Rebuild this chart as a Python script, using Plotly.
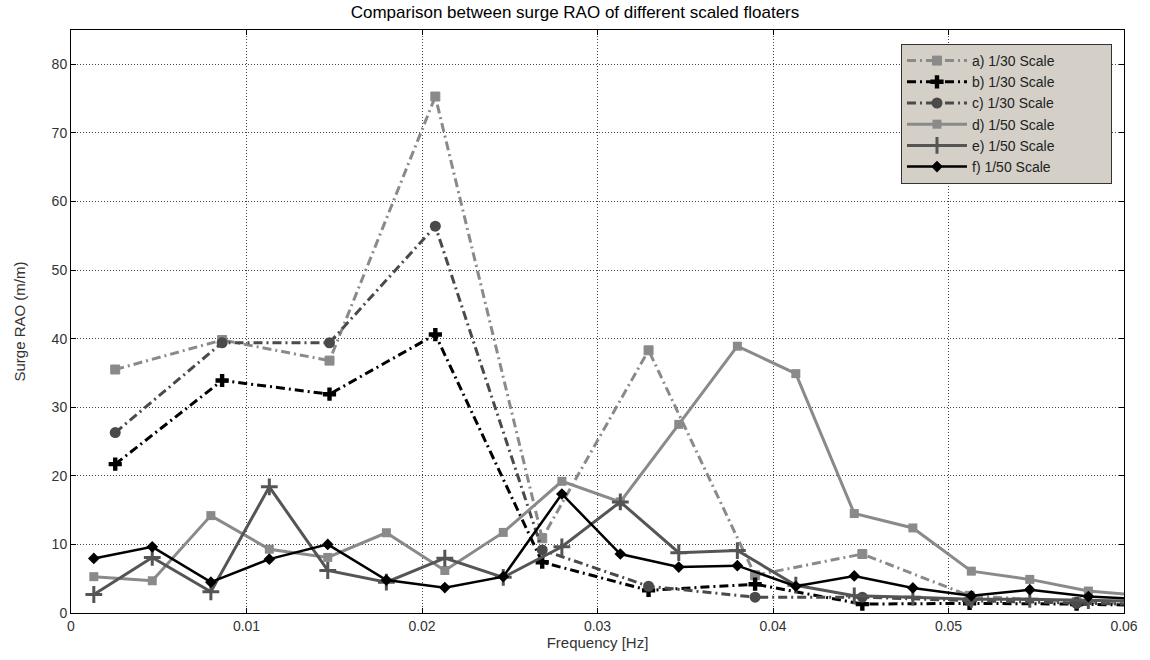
import plotly.graph_objects as go

# Frequencies (Hz)
freq_30 = [0.00252, 0.00861, 0.01473, 0.02076, 0.02685, 0.03291, 0.03898, 0.04509, 0.0512, 0.0573, 0.0634]
freq_50 = [0.0013, 0.00463, 0.00797, 0.0113, 0.01463, 0.01797, 0.0213, 0.02463, 0.02797, 0.0313,
           0.03463, 0.03797, 0.0413, 0.04463, 0.04797, 0.0513, 0.05463, 0.05797, 0.0613]

# Surge RAO (m/m)
rao_a = [35.5, 39.8, 36.8, 75.3, 10.9, 38.3, 5.5, 8.6, 2.5, 1.6, 1.2]
rao_b = [21.7, 33.9, 31.9, 40.6, 7.4, 3.3, 4.2, 1.3, 1.4, 1.3, 1.0]
rao_c = [26.3, 39.4, 39.4, 56.4, 9.2, 3.9, 2.3, 2.3, 1.8, 1.4, 1.1]
rao_d = [5.3, 4.7, 14.2, 9.3, 8.1, 11.7, 6.2, 11.75, 19.2, 16.2, 27.5, 38.9, 34.9, 14.5, 12.4, 6.1, 4.9, 3.2, 2.5]
rao_e = [2.7, 8.1, 3.1, 18.4, 6.2, 4.5, 8.0, 5.2, 9.65, 16.2, 8.8, 9.1, 4.05, 2.5, 2.3, 2.0, 2.0, 1.8, 1.7]
rao_f = [7.95, 9.65, 4.5, 7.85, 10.0, 4.8, 3.7, 5.3, 17.35, 8.6, 6.7, 6.9, 3.9, 5.4, 3.65, 2.5, 3.4, 2.4, 2.0]

names = ["a) 1/30 Scale", "b) 1/30 Scale", "c) 1/30 Scale", "d) 1/50 Scale", "e) 1/50 Scale", "f) 1/50 Scale"]
x_ticks = [0, 0.01, 0.02, 0.03, 0.04, 0.05, 0.06]
x_tick_labels = ["0", "0.01", "0.02", "0.03", "0.04", "0.05", "0.06"]
y_ticks = [0, 10, 20, 30, 40, 50, 60, 70, 80]

FONT = "Liberation Sans, Arial, sans-serif"
PAD = "\u00a0" * 13  # right padding inside the legend box

fig = go.Figure()

dashdot = "9px,4px,2px,4px"

fig.add_trace(go.Scatter(x=freq_30, y=rao_a, name=names[0] + PAD, mode="lines+markers",
                         line=dict(color="#8a8a8a", width=3, dash=dashdot),
                         marker=dict(symbol="square", size=9, color="#8a8a8a",
                                     line=dict(color="#8a8a8a", width=1))))
fig.add_trace(go.Scatter(x=freq_30, y=rao_b, name=names[1] + PAD, mode="lines+markers",
                         line=dict(color="#000000", width=3, dash=dashdot),
                         marker=dict(symbol="cross", size=11, color="#000000")))
fig.add_trace(go.Scatter(x=freq_30, y=rao_c, name=names[2] + PAD, mode="lines+markers",
                         line=dict(color="#4a4a4a", width=3, dash=dashdot),
                         marker=dict(symbol="circle", size=11, color="#4a4a4a")))
fig.add_trace(go.Scatter(x=freq_50, y=rao_d, name=names[3] + PAD, mode="lines+markers",
                         line=dict(color="#8a8a8a", width=3),
                         marker=dict(symbol="square", size=9, color="#8a8a8a")))
fig.add_trace(go.Scatter(x=freq_50, y=rao_e, name=names[4] + PAD, mode="lines+markers",
                         line=dict(color="#555555", width=3),
                         marker=dict(symbol="cross-thin", size=12, color="#555555",
                                     line=dict(color="#555555", width=3))))
fig.add_trace(go.Scatter(x=freq_50, y=rao_f, name=names[5] + PAD, mode="lines+markers",
                         line=dict(color="#000000", width=2.5),
                         marker=dict(symbol="diamond", size=9, color="#000000")))

axis_common = dict(showline=True, linecolor="#000000", linewidth=1, mirror="ticks",
                   ticks="inside", ticklen=5, tickcolor="#000000",
                   showgrid=True, gridcolor="#444444", griddash="1px,2px", gridwidth=1,
                   zeroline=False, tickfont=dict(family=FONT, size=14, color="#333333"))

fig.update_xaxes(range=[0, 0.06], tickvals=x_ticks, ticktext=x_tick_labels,
                 title=dict(text="Frequency [Hz]", standoff=2,
                            font=dict(family=FONT, size=15, color="#333333")),
                 **axis_common)
fig.update_yaxes(range=[0, 85], tickvals=y_ticks,
                 title=dict(text="Surge RAO (m/m)", standoff=22,
                            font=dict(family=FONT, size=15, color="#333333")),
                 **axis_common)

fig.update_layout(
    width=1150, height=660,
    margin=dict(l=71, r=23, t=30, b=47),
    paper_bgcolor="#ffffff", plot_bgcolor="#ffffff",
    title=dict(text="Comparison between surge RAO of different scaled floaters",
               x=0.5, xanchor="center", y=0.982, yanchor="middle",
               font=dict(family=FONT, size=17, color="#000000")),
    legend=dict(x=0.9886, xanchor="right", y=0.976, yanchor="top",
                bgcolor="#d4d0c8", bordercolor="#333333", borderwidth=1,
                font=dict(family=FONT, size=14, color="#222222"),
                itemwidth=60, tracegroupgap=0),
    showlegend=True,
)

fig.write_html("out.html", config={"displayModeBar": False},
               post_script="document.body.style.margin='0';")
